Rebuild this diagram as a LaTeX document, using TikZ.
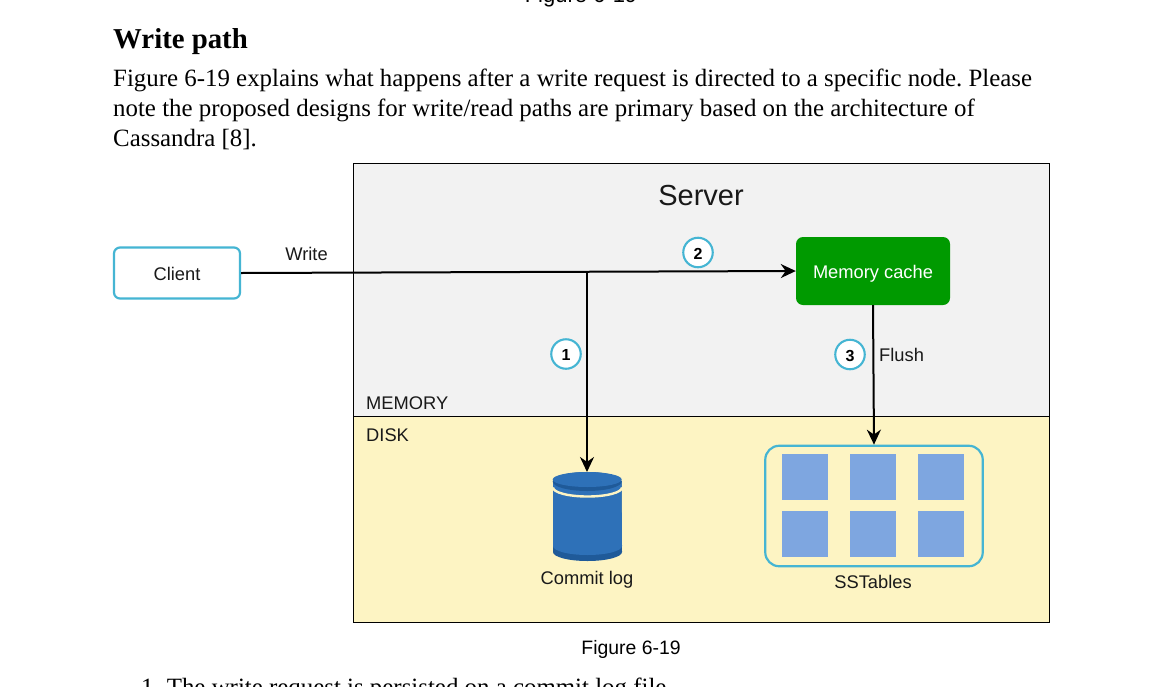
\documentclass[tikz,border=0pt]{standalone}
\usepackage{fontspec}
\setmainfont{Liberation Serif}
\newfontfamily\diag{Liberation Sans}
\usetikzlibrary{arrows.meta,calc}
\frenchspacing
\definecolor{srv}{HTML}{F2F2F2}
\definecolor{dsk}{HTML}{FDF4C3}
\definecolor{ringc}{HTML}{45B5D3}
\definecolor{cachec}{HTML}{009A00}
\definecolor{cylc}{HTML}{2E71B8}
\definecolor{cyld}{HTML}{1F5A99}
\definecolor{tilec}{HTML}{7EA6E0}
\tikzset{
  x=1pt,y=-1pt,
  prose/.style={anchor=base west,inner sep=0,font=\fontsize{24.88}{30}\selectfont,text=black},
  lbl/.style={inner sep=0,font=\diag\fontsize{18.3}{22}\selectfont,text=black!90},
  zone/.style={draw=black,line width=0.9pt,inner sep=0,anchor=north west},
  stepnum/.style={circle,draw=ringc,line width=2.1pt,fill=white,minimum size=29.5pt,inner sep=0,font=\diag\bfseries\fontsize{16}{18}\selectfont},
  flow/.style={draw=black,line width=2pt,-{Stealth[length=15pt,width=14pt]}},
  tile/.style={fill=tilec,minimum width=46pt,minimum height=46pt,inner sep=0},
}
\begin{document}
\begin{tikzpicture}
\useasboundingbox[fill=white] (0,0) rectangle (1152,686);
% prose
\node[anchor=base,inner sep=0,font=\diag\fontsize{22}{26}\selectfont] (prevcap) at (581,2) {Figure 6-19};
\node[prose,font=\bfseries\fontsize{28.8}{34}\selectfont] (head) at (113,48) {Write path};
\node[prose] (p1) at (113,86) {Figure 6-19 explains what happens after a write request is directed to a specific node. Please};
\node[prose] (p2) at (113,116) {note the proposed designs for write/read paths are primary based on the architecture of};
\node[prose] (p3) at (113,146) {Cassandra [8].};
\node[anchor=base,inner sep=0,font=\diag\fontsize{19.4}{24}\selectfont] (cap) at (631,654) {Figure 6-19};
\node[prose] (item) at (141,695) {1.\hspace{7pt}The write request is persisted on a commit log file.};
% zones
\node[zone,fill=srv,minimum width=696.5pt,minimum height=253pt] (server) at (352.8,163) {};
\node[zone,fill=dsk,minimum width=696.5pt,minimum height=206pt] (disk) at (352.8,415.8) {};
\node[inner sep=0,font=\diag\fontsize{29}{34}\selectfont,text=black!90] (srvt) at (701,196) {Server};
\node[lbl,anchor=base west] (mem) at (366,409) {MEMORY};
\node[lbl,anchor=base west] (dsktxt) at (366,441) {DISK};
% client and cache
\node[draw=ringc,line width=2.2pt,rounded corners=6pt,fill=white,minimum width=126pt,minimum height=51pt,inner sep=0,font=\diag\fontsize{18.3}{22}\selectfont,text=black!90] (client) at (177,273) {\raisebox{-7.5pt}[0pt][0pt]{Client}};
\node[fill=cachec,rounded corners=7pt,minimum width=154pt,minimum height=68pt,inner sep=0,text=white,font=\diag\fontsize{18.3}{22}\selectfont] (cache) at (873,271) {\raisebox{-7pt}[0pt][0pt]{Memory cache}};
% sstables
\node[draw=ringc,line width=2.2pt,rounded corners=14pt,minimum width=217.5pt,minimum height=120.5pt,inner sep=0] (sst) at (874,506) {};
\node[tile] (t1) at (804.5,477) {};
\node[tile] (t2) at (872.5,477) {};
\node[tile] (t3) at (941,477) {};
\node[tile] (t4) at (804.5,534) {};
\node[tile] (t5) at (872.5,534) {};
\node[tile] (t6) at (941,534) {};
\node[lbl] (ssl) at (873,582) {SSTables};
% cylinder
\coordinate (cyltop) at (587,472);
\fill[cyld] (553,481) -- (553,552) arc[start angle=180,end angle=360,x radius=34.5,y radius=-9] -- (621.5,481) -- cycle;
\fill[cylc] (553,481) -- (553,546) arc[start angle=180,end angle=360,x radius=34.5,y radius=-9] -- (621.5,481) -- cycle;
\draw[dsk,line width=2.4pt] (553,487.5) arc[start angle=180,end angle=360,x radius=34.5,y radius=-9];
\fill[cyld] (587.2,481.5) ellipse[x radius=34.5,y radius=9.5];
\fill[cylc] (587.2,479.5) ellipse[x radius=34.5,y radius=7.5];
\node[lbl] (cl) at (587,579.5) {Commit log};
% connectors
\coordinate (junction) at (587,272);
\draw[flow] (client.east) -- (cache.west);
\draw[flow] (junction) -- (cyltop);
\draw[flow] (cache.south) -- ($(sst.north)+(0,0)$);
\node[lbl,anchor=base] (wr) at (306.5,260) {Write};
\node[lbl,anchor=base west] (fl) at (879,361) {Flush};
% steps
\node[stepnum] (s1) at (566,354) {\raisebox{-6.5pt}[0pt][0pt]{1}};
\node[stepnum] (s2) at (698,252.5) {\raisebox{-6.5pt}[0pt][0pt]{2}};
\node[stepnum] (s3) at (850,354.5) {\raisebox{-6.5pt}[0pt][0pt]{3}};
\end{tikzpicture}
\end{document}
